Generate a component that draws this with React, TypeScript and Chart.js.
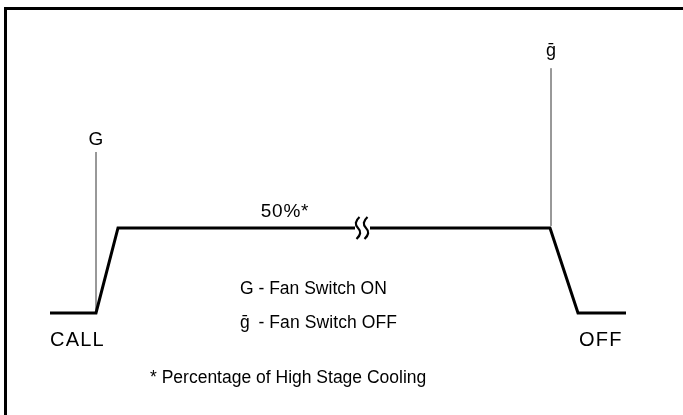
import React, { useEffect, useRef } from "react";
import { Chart, registerables } from "chart.js";

Chart.register(...registerables);

// Fan speed profile: time units (x) vs. fan speed percent (y)
const profileTime = [50, 96, 118, 355, 362, 370, 550, 578, 626];
const profileSpeed = [0, 0, 50, 50, null, 50, 50, 0, 0];

// Event marker lines
const onMarkerTime = [96, 96];
const onMarkerSpeed = [1.8, 94.7];
const offMarkerTime = [551, 551];
const offMarkerSpeed = [51.2, 144];

// Axis-break position on the held level
const breakTime = 362;
const breakSpeed = 50;

// Annotation texts
const labelTexts = [
  "G",
  "\u1E21",
  "50%*",
  "CALL",
  "OFF",
  "G - Fan Switch ON",
  "\u1E21\u2009 - Fan Switch OFF",
  "* Percentage of High Stage Cooling",
];
const labelTime = [96, 551, 285, 50, 579, 240, 240, 150];
const labelSpeed = [101.8, 154, 59.6, -15.9, -15.9, 14.1, -6.2, -38.2];
const labelAlign = ["center", "center", "center", "left", "left", "left", "left", "left"];
const labelSize = [19, 18, 19, 20, 20, 17.5, 17.5, 17.5];
const labelSpacing = [0, 0, 0.8, 1.2, 1.2, 0, 0.1, 0];

const FONT = '"Liberation Sans", Arial, Helvetica, sans-serif';

const decorPlugin = {
  id: "decor",
  beforeDraw(chart: any) {
    const ctx = chart.ctx;
    ctx.save();
    ctx.fillStyle = "#ffffff";
    ctx.fillRect(0, 0, chart.width, chart.height);
    // frame (top and left visible)
    ctx.strokeStyle = "#000";
    ctx.lineWidth = 3;
    ctx.beginPath();
    ctx.moveTo(5.5, chart.height);
    ctx.lineTo(5.5, 8.5);
    ctx.lineTo(chart.width, 8.5);
    ctx.stroke();
    ctx.restore();
  },
  afterDatasetsDraw(chart: any) {
    const ctx = chart.ctx;
    const xs = chart.scales.x;
    const ys = chart.scales.y;
    ctx.save();
    // break symbol
    const bx = xs.getPixelForValue(breakTime);
    const by = ys.getPixelForValue(breakSpeed);
    ctx.strokeStyle = "#000";
    ctx.lineWidth = 2.2;
    for (const off of [-4, 4]) {
      const cx = bx + off;
      ctx.beginPath();
      ctx.moveTo(cx + 1.5, by - 11);
      ctx.quadraticCurveTo(cx - 5, by - 5, cx, by);
      ctx.quadraticCurveTo(cx + 5, by + 5, cx - 1.5, by + 11);
      ctx.stroke();
    }
    // labels
    ctx.fillStyle = "#000";
    ctx.textBaseline = "middle";
    labelTexts.forEach((t, i) => {
      ctx.font = `${labelSize[i]}px ${FONT}`;
      ctx.textAlign = labelAlign[i];
      if ("letterSpacing" in ctx) (ctx as any).letterSpacing = `${labelSpacing[i]}px`;
      ctx.fillText(t, xs.getPixelForValue(labelTime[i]), ys.getPixelForValue(labelSpeed[i]));
    });
    ctx.restore();
  },
};

export default function App() {
  const ref = useRef<HTMLCanvasElement | null>(null);
  useEffect(() => {
    if (!ref.current) return;
    const chart = new Chart(ref.current, {
      type: "scatter",
      data: {
        datasets: [
          {
            data: profileTime.map((t, i) => ({ x: t, y: profileSpeed[i] })),
            showLine: true,
            spanGaps: false,
            borderColor: "#000",
            borderWidth: 3,
            pointRadius: 0,
            borderJoinStyle: "miter",
          },
          {
            data: onMarkerTime.map((t, i) => ({ x: t, y: onMarkerSpeed[i] })),
            showLine: true,
            borderColor: "#333",
            borderWidth: 1,
            pointRadius: 0,
          },
          {
            data: offMarkerTime.map((t, i) => ({ x: t, y: offMarkerSpeed[i] })),
            showLine: true,
            borderColor: "#333",
            borderWidth: 1,
            pointRadius: 0,
          },
        ] as any,
      },
      options: {
        animation: false,
        responsive: false,
        devicePixelRatio: 1,
        layout: { padding: 0 },
        plugins: { legend: { display: false }, tooltip: { enabled: false } },
        scales: {
          x: { type: "linear", min: 0, max: 683, display: false },
          y: { type: "linear", min: -60, max: 184.1, display: false },
        },
      },
      plugins: [decorPlugin],
    });
    return () => chart.destroy();
  }, []);
  return (
    <div style={{ position: "absolute", left: 0, top: 0, width: 683, height: 415, background: "#fff" }}>
      <canvas ref={ref} width={683} height={415} />
    </div>
  );
}
